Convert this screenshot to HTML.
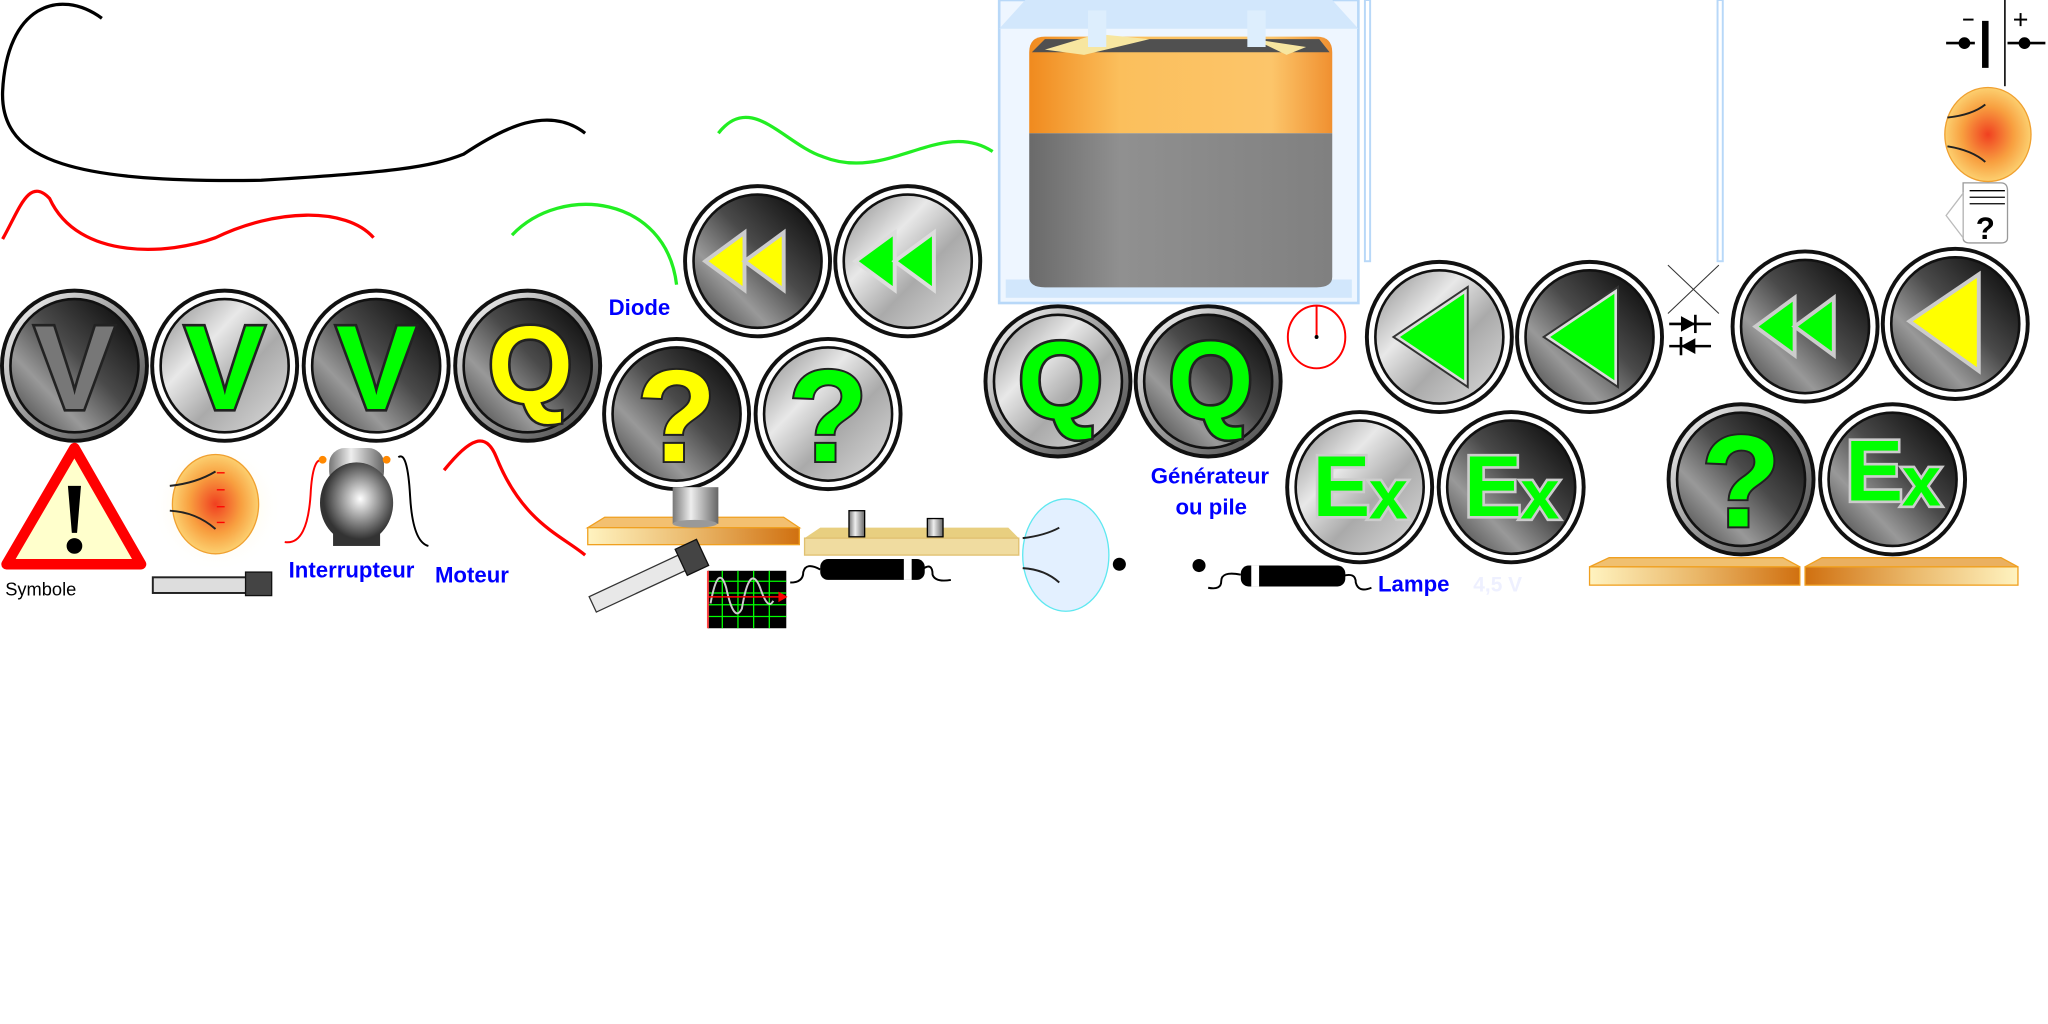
<!DOCTYPE html>
<html><head><meta charset="utf-8"><style>
html,body{margin:0;padding:0;background:#fff;width:2048px;height:1024px;overflow:hidden}
svg{display:block}
text{font-family:"Liberation Sans",sans-serif}
</style></head><body>
<svg width="2048" height="1024" viewBox="0 0 1568 784" xmlns="http://www.w3.org/2000/svg">
<defs>
<linearGradient id="dk" x1="1" y1="0" x2="0" y2="1"><stop offset="0" stop-color="#000"/><stop offset=".45" stop-color="#4a4a4a"/><stop offset=".7" stop-color="#999"/><stop offset="1" stop-color="#333"/></linearGradient>
<linearGradient id="lt" x1="0" y1="0" x2="1" y2="1"><stop offset="0" stop-color="#888"/><stop offset=".35" stop-color="#e8e8e8"/><stop offset=".6" stop-color="#aaa"/><stop offset="1" stop-color="#ddd"/></linearGradient>
<linearGradient id="ring" x1="0" y1="0" x2="1" y2="1"><stop offset="0" stop-color="#fff"/><stop offset=".5" stop-color="#999"/><stop offset="1" stop-color="#444"/></linearGradient>
<linearGradient id="orng" x1="0" y1="0" x2="1" y2="0"><stop offset="0" stop-color="#f08a1e"/><stop offset=".3" stop-color="#fbbf5c"/><stop offset=".8" stop-color="#fcc56a"/><stop offset="1" stop-color="#f09030"/></linearGradient>
<linearGradient id="gry" x1="0" y1="0" x2="1" y2="0"><stop offset="0" stop-color="#6a6a6a"/><stop offset=".3" stop-color="#909090"/><stop offset="1" stop-color="#808080"/></linearGradient>
<linearGradient id="plank" x1="0" y1="0" x2="1" y2="0"><stop offset="0" stop-color="#fff3c0"/><stop offset=".5" stop-color="#eab86a"/><stop offset="1" stop-color="#d07010"/></linearGradient>
<linearGradient id="plank2" x1="1" y1="0" x2="0" y2="0"><stop offset="0" stop-color="#fff3c0"/><stop offset=".5" stop-color="#eab86a"/><stop offset="1" stop-color="#d07010"/></linearGradient>
<linearGradient id="cyl" x1="0" y1="0" x2="1" y2="0"><stop offset="0" stop-color="#777"/><stop offset=".4" stop-color="#eee"/><stop offset="1" stop-color="#666"/></linearGradient>
<radialGradient id="bulb"><stop offset="0" stop-color="#f04020"/><stop offset=".6" stop-color="#f8a040"/><stop offset="1" stop-color="#fcd070"/></radialGradient>
<radialGradient id="glow"><stop offset="0" stop-color="#fff3b0"/><stop offset="1" stop-color="#fff" stop-opacity="0"/></radialGradient>
<radialGradient id="ball" cx=".55" cy=".45"><stop offset="0" stop-color="#fff"/><stop offset=".5" stop-color="#999"/><stop offset="1" stop-color="#333"/></radialGradient>
</defs>

<path d="M78,14 C45,-10 5,5 2,70 C0,125 60,140 200,138 C300,132 330,128 355,118 C385,98 420,80 448,102" fill="none" stroke="#000" stroke-width="2.5"/>
<path d="M2,183 C15,160 22,135 38,152 C60,200 130,195 165,182 C210,160 265,158 286,182" fill="none" stroke="#f00" stroke-width="2.5"/>
<path d="M392,180 C430,140 510,150 518,218" fill="none" stroke="#2e2" stroke-width="2.5"/>
<path d="M550,102 C575,70 600,110 630,120 C680,140 720,90 760,116" fill="none" stroke="#2e2" stroke-width="2.5"/>
<path d="M340,360 C360,335 372,330 380,350 C400,400 430,410 448,425" fill="none" stroke="#f00" stroke-width="2.5"/>

<rect x="765" y="0" width="275" height="232" fill="#eef6ff" stroke="#b8d8f8" stroke-width="2"/>
<polygon points="765,22 785,0 1020,0 1040,22" fill="#d2e7fc"/>
<rect x="770" y="214" width="265" height="14" fill="#d2e7fc"/>
<path d="M788,40 Q788,28 800,28 L1008,28 Q1020,28 1020,40 L1020,102 L788,102Z" fill="url(#orng)"/>
<path d="M788,102 L1020,102 L1020,212 Q1020,220 1008,220 L800,220 Q788,220 788,212Z" fill="url(#gry)"/>
<path d="M790,40 L800,30 L1010,30 L1018,40Z" fill="#505050"/>
<polygon points="800,38 840,26 880,30 830,42" fill="#f7e6a0"/>
<polygon points="960,30 1000,36 985,42" fill="#f7e6a0"/>
<rect x="833" y="8" width="14" height="28" fill="#ddeefd"/><rect x="955" y="8" width="14" height="28" fill="#ddeefd"/>
<rect x="1045" y="0" width="4" height="200" fill="none" stroke="#b8d8f8" stroke-width="1.5"/>
<rect x="1315" y="0" width="4" height="200" fill="none" stroke="#b8d8f8" stroke-width="1.5"/>

<ellipse cx="1008" cy="258" rx="22" ry="24" fill="none" stroke="#f00" stroke-width="1.5"/>
<line x1="1008" y1="234" x2="1008" y2="258" stroke="#f00" stroke-width="1.5"/><circle cx="1008" cy="258" r="1.5"/>
<line x1="1277" y1="203" x2="1316" y2="240" stroke="#333" stroke-width=".8"/><line x1="1316" y1="203" x2="1277" y2="240" stroke="#333" stroke-width=".8"/>
<g stroke="#000" stroke-width="2"><line x1="1278" y1="248" x2="1310" y2="248"/><line x1="1278" y1="265" x2="1310" y2="265"/><line x1="1298" y1="241" x2="1298" y2="255"/><line x1="1287" y1="258" x2="1287" y2="272"/></g>
<polygon points="1287,242 1298,248 1287,254" /><polygon points="1298,259 1287,265 1298,271"/>

<g stroke="#000"><line x1="1490" y1="33" x2="1512" y2="33" stroke-width="2"/><line x1="1520" y1="16" x2="1520" y2="52" stroke-width="5"/><line x1="1535" y1="0" x2="1535" y2="66" stroke-width="1.2"/><line x1="1537" y1="33" x2="1566" y2="33" stroke-width="2"/><line x1="1503" y1="15" x2="1511" y2="15" stroke-width="1.5"/><line x1="1542" y1="15" x2="1552" y2="15" stroke-width="1.5"/><line x1="1547" y1="10" x2="1547" y2="20" stroke-width="1.5"/></g>
<circle cx="1504" cy="33" r="4.5"/><circle cx="1550" cy="33" r="4.5"/>
<ellipse cx="1522" cy="103" rx="33" ry="36" fill="url(#bulb)" stroke="#f0a030"/>
<path d="M1491,90 Q1510,88 1520,80 M1491,112 Q1510,115 1520,124" fill="none" stroke="#222" stroke-width="1.5"/>
<path d="M1503,140 L1532,140 Q1537,140 1537,146 L1537,182 Q1537,186 1532,186 L1508,186 Q1503,186 1503,182Z" fill="#fff" stroke="#999"/>
<polygon points="1503,148 1490,165 1503,182" fill="#fff" stroke="#bbb"/>
<g stroke="#000"><line x1="1508" y1="146" x2="1535" y2="146"/><line x1="1508" y1="151" x2="1535" y2="151"/><line x1="1508" y1="156" x2="1535" y2="156"/></g>
<text x="1520" y="183" font-size="24" font-weight="bold" text-anchor="middle">?</text>

<g transform="translate(57,280)"><ellipse rx="57" ry="59" fill="#111"/><ellipse rx="54" ry="56" fill="url(#ring)"/><ellipse rx="49" ry="51" fill="url(#dk)" stroke="#111" stroke-width="2"/><text y="33" font-size="92" font-weight="bold" text-anchor="middle" fill="#777" stroke="#222" stroke-width="4" paint-order="stroke">V</text></g>
<g transform="translate(172,280)"><ellipse rx="57" ry="59" fill="#111"/><ellipse rx="54" ry="56" fill="#fff"/><ellipse rx="49" ry="51" fill="url(#lt)" stroke="#111" stroke-width="2"/><text y="33" font-size="92" font-weight="bold" text-anchor="middle" fill="#0f0" stroke="#222" stroke-width="4" paint-order="stroke">V</text></g>
<g transform="translate(288,280)"><ellipse rx="57" ry="59" fill="#111"/><ellipse rx="54" ry="56" fill="#fff"/><ellipse rx="49" ry="51" fill="url(#dk)" stroke="#111" stroke-width="2"/><text y="33" font-size="92" font-weight="bold" text-anchor="middle" fill="#0f0" stroke="#222" stroke-width="4" paint-order="stroke">V</text></g>
<g transform="translate(404,280)"><ellipse rx="57" ry="59" fill="#111"/><ellipse rx="54" ry="56" fill="url(#ring)"/><ellipse rx="49" ry="51" fill="url(#dk)" stroke="#111" stroke-width="2"/><text x="2" y="28" font-size="84" font-weight="bold" text-anchor="middle" fill="#ff0" stroke="#222" stroke-width="4" paint-order="stroke">Q</text></g>

<g transform="translate(580,200)"><ellipse rx="57" ry="59" fill="#111"/><ellipse rx="54" ry="56" fill="#fff"/><ellipse rx="49" ry="51" fill="url(#dk)" stroke="#111" stroke-width="2"/><g fill="#ff0" stroke="#ccc" stroke-width="3"><polygon points="-40,0 -10,-22 -10,22"/><polygon points="-10,0 20,-22 20,22"/></g></g>
<g transform="translate(695,200)"><ellipse rx="57" ry="59" fill="#111"/><ellipse rx="54" ry="56" fill="#fff"/><ellipse rx="49" ry="51" fill="url(#lt)" stroke="#111" stroke-width="2"/><g fill="#0f0" stroke="#ddd" stroke-width="3"><polygon points="-40,0 -10,-22 -10,22"/><polygon points="-10,0 20,-22 20,22"/></g></g>
<g transform="translate(518,317)"><ellipse rx="57" ry="59" fill="#111"/><ellipse rx="54" ry="56" fill="#fff"/><ellipse rx="49" ry="51" fill="url(#dk)" stroke="#111" stroke-width="2"/><text y="36" font-size="100" font-weight="bold" text-anchor="middle" fill="#ff0" stroke="#222" stroke-width="3" paint-order="stroke">?</text></g>
<g transform="translate(634,317)"><ellipse rx="57" ry="59" fill="#111"/><ellipse rx="54" ry="56" fill="#fff"/><ellipse rx="49" ry="51" fill="url(#lt)" stroke="#111" stroke-width="2"/><text y="36" font-size="100" font-weight="bold" text-anchor="middle" fill="#0f0" stroke="#222" stroke-width="3" paint-order="stroke">?</text></g>

<g transform="translate(810,292)"><ellipse rx="57" ry="59" fill="#111"/><ellipse rx="54" ry="56" fill="url(#ring)"/><ellipse rx="49" ry="51" fill="url(#lt)" stroke="#111" stroke-width="2"/><text x="2" y="28" font-size="84" font-weight="bold" text-anchor="middle" fill="#0f0" stroke="#222" stroke-width="4" paint-order="stroke">Q</text></g>
<g transform="translate(925,292)"><ellipse rx="57" ry="59" fill="#111"/><ellipse rx="54" ry="56" fill="url(#ring)"/><ellipse rx="49" ry="51" fill="url(#dk)" stroke="#111" stroke-width="2"/><text x="2" y="28" font-size="84" font-weight="bold" text-anchor="middle" fill="#0f0" stroke="#222" stroke-width="4" paint-order="stroke">Q</text></g>

<g transform="translate(1102,258)"><ellipse rx="57" ry="59" fill="#111"/><ellipse rx="54" ry="56" fill="#fff"/><ellipse rx="49" ry="51" fill="url(#lt)" stroke="#111" stroke-width="2"/><polygon points="-32,0 20,-35 20,35" fill="#0f0" stroke="#333" stroke-width="5"/><polygon points="-32,0 20,-35 20,35" fill="#0f0" stroke="#ddd" stroke-width="2"/></g>
<g transform="translate(1217,258)"><ellipse rx="57" ry="59" fill="#111"/><ellipse rx="54" ry="56" fill="#fff"/><ellipse rx="49" ry="51" fill="url(#dk)" stroke="#111" stroke-width="2"/><polygon points="-32,0 20,-35 20,35" fill="#0f0" stroke="#333" stroke-width="5"/><polygon points="-32,0 20,-35 20,35" fill="#0f0" stroke="#ddd" stroke-width="2"/></g>
<g transform="translate(1382,250)"><ellipse rx="57" ry="59" fill="#111"/><ellipse rx="54" ry="56" fill="#fff"/><ellipse rx="49" ry="51" fill="url(#dk)" stroke="#111" stroke-width="2"/><g fill="#0f0" stroke="#ccc" stroke-width="3"><polygon points="-38,0 -8,-22 -8,22"/><polygon points="-8,0 22,-22 22,22"/></g></g>
<g transform="translate(1497,248)"><ellipse rx="57" ry="59" fill="#111"/><ellipse rx="54" ry="56" fill="#fff"/><ellipse rx="49" ry="51" fill="url(#dk)" stroke="#111" stroke-width="2"/><polygon points="-35,-2 18,-38 18,36" fill="#ff0" stroke="#ccc" stroke-width="3"/></g>

<g transform="translate(1041,373)"><ellipse rx="57" ry="59" fill="#111"/><ellipse rx="54" ry="56" fill="#fff"/><ellipse rx="49" ry="51" fill="url(#lt)" stroke="#111" stroke-width="2"/><text x="-14" y="22" font-size="66" font-weight="bold" text-anchor="middle" fill="#0f0" stroke="#ccc" stroke-width="4" paint-order="stroke">E</text><text x="22" y="24" font-size="54" font-weight="bold" text-anchor="middle" fill="#0f0" stroke="#ccc" stroke-width="4" paint-order="stroke">x</text></g>
<g transform="translate(1157,373)"><ellipse rx="57" ry="59" fill="#111"/><ellipse rx="54" ry="56" fill="#fff"/><ellipse rx="49" ry="51" fill="url(#dk)" stroke="#111" stroke-width="2"/><text x="-14" y="22" font-size="66" font-weight="bold" text-anchor="middle" fill="#0f0" stroke="#ccc" stroke-width="4" paint-order="stroke">E</text><text x="22" y="24" font-size="54" font-weight="bold" text-anchor="middle" fill="#0f0" stroke="#ccc" stroke-width="4" paint-order="stroke">x</text></g>
<g transform="translate(1333,367)"><ellipse rx="57" ry="59" fill="#111"/><ellipse rx="54" ry="56" fill="url(#ring)"/><ellipse rx="49" ry="51" fill="url(#dk)" stroke="#111" stroke-width="2"/><text y="36" font-size="100" font-weight="bold" text-anchor="middle" fill="#0f0" stroke="#222" stroke-width="3" paint-order="stroke">?</text></g>
<g transform="translate(1449,367)"><ellipse rx="57" ry="59" fill="#111"/><ellipse rx="54" ry="56" fill="#fff"/><ellipse rx="49" ry="51" fill="url(#dk)" stroke="#111" stroke-width="2"/><text x="-14" y="16" font-size="66" font-weight="bold" text-anchor="middle" fill="#0f0" stroke="#ccc" stroke-width="4" paint-order="stroke">E</text><text x="22" y="20" font-size="54" font-weight="bold" text-anchor="middle" fill="#0f0" stroke="#ccc" stroke-width="4" paint-order="stroke">x</text></g>

<polygon points="57,343 108,432 5,432" fill="#ffffcc" stroke="#f00" stroke-width="8" stroke-linejoin="round"/>
<polygon points="52,372 62,372 59,408 55,408" fill="#000"/><ellipse cx="57" cy="418" rx="6" ry="6"/>
<text x="4" y="456" font-size="14" fill="#000">Symbole</text>
<circle cx="166" cy="388" r="50" fill="url(#glow)"/>
<ellipse cx="165" cy="386" rx="33" ry="38" fill="url(#bulb)" stroke="#f0a030"/>
<path d="M130,372 Q150,370 165,361 M130,391 Q150,392 165,405" fill="none" stroke="#222" stroke-width="1.5"/>
<path d="M166,362 L172,362 M166,375 L172,375 M166,388 L172,388 M166,400 L172,400" stroke="#f00"/>
<rect x="117" y="442" width="75" height="12" fill="#ddd" stroke="#222" stroke-width="1.5"/><rect x="188" y="438" width="20" height="18" fill="#444" stroke="#111"/>
<path d="M218,415 Q236,418 238,375 Q240,348 248,353" fill="none" stroke="#f00" stroke-width="1.5"/>
<path d="M305,350 Q312,345 314,380 Q316,415 328,418" fill="none" stroke="#000" stroke-width="1.5"/>
<rect x="255" y="403" width="36" height="15" fill="#333"/>
<rect x="252" y="343" width="42" height="30" rx="12" fill="url(#cyl)"/>
<ellipse cx="273" cy="385" rx="28" ry="31" fill="url(#ball)"/>
<circle cx="247" cy="352" r="3" fill="#f80"/><circle cx="296" cy="352" r="3" fill="#f80"/>
<g font-weight="bold" fill="#0000ff" font-size="17"><text x="221" y="442">Interrupteur</text><text x="333" y="446">Moteur</text><text x="466" y="241">Diode</text><text x="881" y="370">Générateur</text><text x="900" y="394">ou pile</text><text x="1055" y="453">Lampe</text></g>
<text x="1128" y="453" font-size="16" font-weight="bold" fill="#eef0ff">4,5 V</text>

<polygon points="450,404 463,396 600,396 612,404" fill="#f3c070" stroke="#f0a020"/>
<rect x="450" y="404" width="162" height="13" fill="url(#plank)" stroke="#f0a020"/>
<rect x="515" y="373" width="35" height="28" fill="url(#cyl)"/><ellipse cx="532" cy="401" rx="17" ry="3" fill="#999"/>
<polygon points="616,412 628,404 772,404 780,412" fill="#e8cf80"/>
<rect x="616" y="412" width="164" height="13" fill="#f0dca0" stroke="#e0c070"/>
<rect x="650" y="391" width="12" height="20" fill="url(#cyl)" stroke="#000"/><rect x="710" y="397" width="12" height="14" fill="url(#cyl)" stroke="#000"/>
<g transform="rotate(-25 493 445)"><rect x="450" y="438" width="80" height="13" fill="#e8e8e8" stroke="#333"/><rect x="525" y="433" width="18" height="22" fill="#444" stroke="#111"/></g>
<rect x="542" y="437" width="60" height="44" fill="#000"/>
<g stroke="#0f0" stroke-width="1"><line x1="542" y1="445" x2="602" y2="445"/><line x1="542" y1="454" x2="602" y2="454"/><line x1="542" y1="463" x2="602" y2="463"/><line x1="542" y1="472" x2="602" y2="472"/><line x1="553" y1="437" x2="553" y2="481"/><line x1="565" y1="437" x2="565" y2="481"/><line x1="577" y1="437" x2="577" y2="481"/><line x1="589" y1="437" x2="589" y2="481"/></g>
<path d="M544,462 Q550,430 556,450 Q562,478 568,466 Q574,430 582,450 Q588,468 592,460" fill="none" stroke="#ccc" stroke-width="1.5"/>
<line x1="542" y1="457" x2="600" y2="457" stroke="#f00" stroke-width="1.2"/><polygon points="596,453 603,457 596,461" fill="#f00"/>
<line x1="542" y1="437" x2="542" y2="481" stroke="#f44" stroke-width="1.5"/>
<path d="M605,446 Q615,446 615,438 Q617,430 628,436" fill="none" stroke="#000" stroke-width="1.5"/>
<rect x="628" y="428" width="80" height="16" rx="6" fill="#000"/><rect x="692" y="428" width="6" height="16" fill="#fff"/>
<path d="M706,436 Q714,430 714,440 Q716,446 728,444" fill="none" stroke="#000" stroke-width="1.5"/>
<ellipse cx="816" cy="425" rx="33" ry="43" fill="#e3f0ff" stroke="#5ee8f0"/>
<path d="M783,412 Q800,410 811,404 M783,435 Q800,436 811,446" fill="none" stroke="#222" stroke-width="1.5"/>
<circle cx="857" cy="432" r="5"/>
<circle cx="918" cy="433" r="5"/>
<path d="M925,450 Q935,452 935,445 Q935,437 950,440" fill="none" stroke="#000" stroke-width="1.5"/>
<rect x="950" y="433" width="80" height="16" rx="6" fill="#000"/><rect x="958" y="433" width="6" height="16" fill="#fff"/>
<path d="M1028,441 Q1038,438 1038,446 Q1040,454 1050,450" fill="none" stroke="#000" stroke-width="1.5"/>
<polygon points="1217,434 1232,427 1365,427 1378,434" fill="#f0c070" stroke="#f0a020"/>
<rect x="1217" y="434" width="161" height="14" fill="url(#plank)" stroke="#f0a020"/>
<polygon points="1382,434 1395,427 1532,427 1545,434" fill="#eab060" stroke="#f0a020"/>
<rect x="1382" y="434" width="163" height="14" fill="url(#plank2)" stroke="#f0a020"/>
</svg>
</body></html>
